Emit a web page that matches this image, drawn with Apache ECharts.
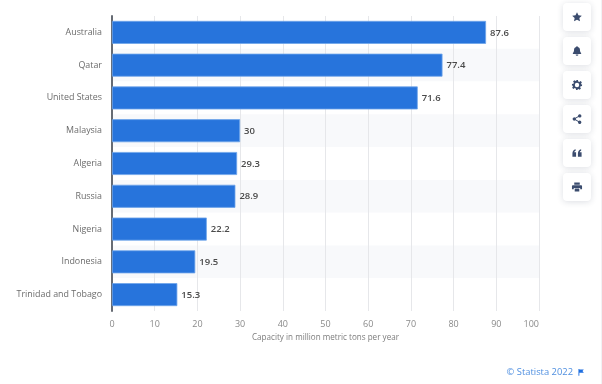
<!DOCTYPE html>
<html>
<head>
<meta charset="utf-8">
<style>html,body{margin:0;padding:0;background:#fff}#c{width:602px;height:384px}</style>
<script src="https://cdn.jsdelivr.net/npm/echarts@6/dist/echarts.min.js"></script>
</head>
<body>
<div id="c"></div>
<script>
const categories = ['Australia','Qatar','United States','Malaysia','Algeria','Russia','Nigeria','Indonesia','Trinidad and Tobago'];
const values = [87.6,77.4,71.6,30,29.3,28.9,22.2,19.5,15.3];
const axisTitle = 'Capacity in million metric tons per year';
const credit = '\u00A9 Statista 2022';
const iconColor = '#3b4c6e';
const icons = [
  'M12 1.500l3.200 6.900 7.300.9-5.400 5 1.500 7.200L12 18l-6.600 3.500 1.500-7.200-5.400-5 7.300-.9z',
  'M12 1.500a2 2 0 0 1 2 2c3 .8 4.500 3.200 4.500 6.500 0 3.500 1 5 2.500 6.500V18.500H3V16.500c1.500-1.500 2.500-3 2.500-6.500 0-3.300 1.500-5.700 4.500-6.500a2 2 0 0 1 2-2zM9 19.500h6a3 3 0 0 1-6 0z',
  'M10 1h4l.7 3.200 2.300 1 2.800-1.800 2.800 2.800-1.800 2.800 1 2.300L23 10v4l-3.200.7-1 2.300 1.800 2.800-2.800 2.800-2.800-1.800-2.300 1L14 23h-4l-.7-3.200-2.300-1-2.800 1.800-2.800-2.800 1.800-2.800-1-2.300L1 14v-4l3.200-.7 1-2.300-1.800-2.800 2.800-2.800 2.800 1.800 2.300-1z',
  'M18 1.500a3.700 3.700 0 1 1-2.800 6.100L9.500 10.800a3.700 3.700 0 0 1 0 2.400l5.700 3.200a3.700 3.700 0 1 1-1 1.800l-5.800-3.300a3.700 3.700 0 1 1 0-5.800l5.800-3.300A3.700 3.700 0 0 1 18 1.500z',
  'M2 13c0-4.500 2.500-8 7-9v3c-1.800.6-2.800 1.700-3 3.500h4V20H2zM14 13c0-4.500 2.500-8 7-9v3c-1.800.6-2.800 1.700-3 3.500h4V20h-8z',
  'M6 2h12v5H6zM3 8h18a2 2 0 0 1 2 2v7h-4v-3H5v3H1v-7a2 2 0 0 1 2-2zM7 15.500h10V22H7z'
];
const flag = 'M1 0h2v1h10l-3 4 3 4H3v7H1z';
icons.forEach((d,i)=>echarts.graphic.registerShape('sideIcon'+i, echarts.graphic.extendPath(d,{})));
echarts.graphic.registerShape('flagIcon', echarts.graphic.extendPath(flag,{}));
const buttonTops = [3,37,71,105,139,173];
const graphics = [];
graphics.push({type:'line',silent:true,shape:{x1:601.5,y1:0,x2:601.5,y2:384},style:{stroke:'#f1f2f4',lineWidth:1}});
buttonTops.forEach((t,i)=>{
  graphics.push({type:'rect',silent:true,z:10,shape:{x:563,y:t,width:28,height:28,r:4},
    style:{fill:'#fff',shadowBlur:6,shadowColor:'rgba(40,50,80,0.16)',shadowOffsetY:1}});
  graphics.push({type:'sideIcon'+i,silent:true,z:11,x:571.5,y:t+8.5,scaleX:11/24,scaleY:11/24,style:{fill:iconColor}});
  if(i===2) graphics.push({type:'circle',silent:true,z:12,shape:{cx:577,cy:t+14,r:2.2},style:{fill:'#fff'}});
});
graphics.push({type:'text',silent:true,x:506.5,y:367.500,style:{text:credit,fill:'#4f8fe0',font:'9.4px "Open Sans", sans-serif'}});
graphics.push({type:'flagIcon',silent:true,x:578,y:369,scaleX:0.45,scaleY:0.42,style:{fill:'#1f6fe0'}});
const chart = echarts.init(document.getElementById('c'),null,{renderer:'canvas'});
chart.setOption({
  animation:false,
  backgroundColor:'#fff',
  grid:{left:112,right:63,top:16,height:295,containLabel:false},
  xAxis:{type:'value',min:0,max:100,interval:10,
    name:axisTitle,nameLocation:'middle',nameGap:23,
    nameTextStyle:{color:'#7c7c7c',fontSize:8.1,fontFamily:'Open Sans'},
    axisLine:{show:false},axisTick:{show:false},
    axisLabel:{color:'#8a8a8a',fontSize:9,fontFamily:'Open Sans',margin:9,alignMaxLabel:'right'},
    splitLine:{show:true,lineStyle:{color:'#e6e7ea',width:1}}},
  yAxis:{type:'category',inverse:true,data:categories,
    axisLine:{show:true,lineStyle:{color:'#666b73',width:2}},
    axisTick:{show:false},
    axisLabel:{color:'#6b6b6b',fontSize:8.9,fontFamily:'Open Sans',margin:10,padding:[3,0,0,0]},
    splitArea:{show:true,areaStyle:{color:['#ffffff','#f8f9fb']}},
    splitLine:{show:false}},
  series:[{type:'bar',data:values,barWidth:23,
    itemStyle:{color:'#2774dc',borderColor:'#6ea5ea',borderWidth:0.8},
    label:{show:true,position:'right',distance:4,offset:[0,0.5],color:'#4a4a4a',fontSize:9.5,fontWeight:600,fontFamily:'Open Sans'}}],
  graphic:graphics
});
</script>
</body>
</html>
